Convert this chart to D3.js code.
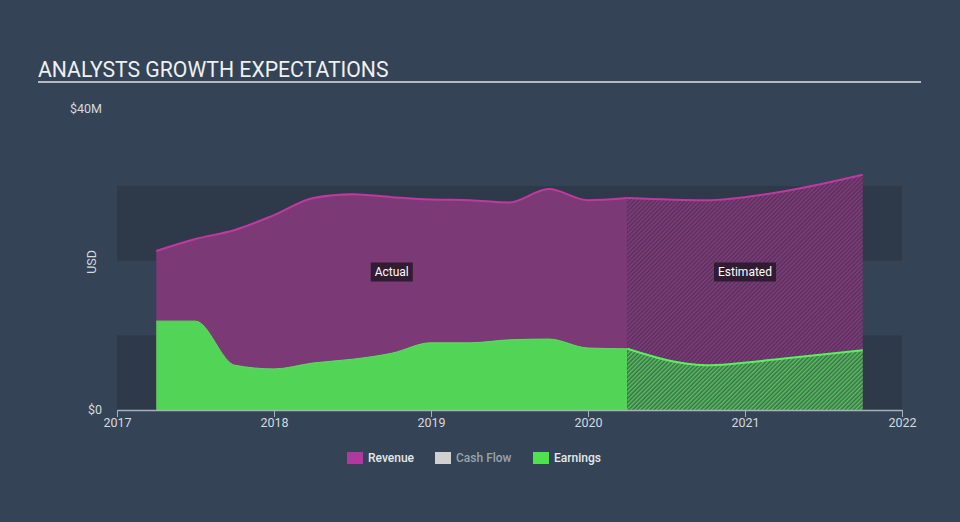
<!DOCTYPE html>
<html>
<head>
<meta charset="utf-8">
<script src="https://cdn.jsdelivr.net/npm/d3@7"></script>
<style>
  html, body { margin: 0; padding: 0; background: #344456; }
  svg { display: block; }
  text { font-family: Roboto, "Noto Sans", sans-serif; }
</style>
</head>
<body>
<svg id="chart" width="960" height="522"></svg>
<script>
// ---- data (values in USD millions, dates in decimal years) ----
const actualDates    = [2017.25, 2017.5, 2017.75, 2018.0, 2018.25, 2018.5, 2018.75, 2019.0, 2019.25, 2019.5, 2019.75, 2020.0, 2020.25];
const actualRevenue  = [21.3, 22.9, 24.1, 26.1, 28.4, 28.9, 28.5, 28.2, 28.1, 27.8, 29.6, 28.1, 28.4];
const actualEarnings = [11.9, 11.9, 6.0, 5.5, 6.3, 6.8, 7.6, 9.0, 9.0, 9.4, 9.5, 8.3, 8.2];

const estDates    = [2020.25, 2020.75, 2021.25, 2021.75];
const estRevenue  = [28.4, 28.1, 29.3, 31.5];
const estEarnings = [8.2, 6.0, 6.9, 8.0];

const yearTicks = [2017, 2018, 2019, 2020, 2021, 2022];
const yTickValues = [0, 40];
const yTickLabels = ["$0", "$40M"];
const bandRanges = [[0, 10], [20, 30]];
const legendItems = ["Revenue", "Cash Flow", "Earnings"];
const title = "ANALYSTS GROWTH EXPECTATIONS";

// ---- setup ----
const svg = d3.select("#chart");
const W = 960, H = 522;
const x = d3.scaleLinear().domain([2017, 2022]).range([117, 902]);
const y = d3.scaleLinear().domain([0, 40]).range([410, 111.3]);

const C = {
  bg: "#344456",
  band: "#2e3a4a",
  revFill: "#7b3a76",
  revLine: "#c0399f",
  earnFill: "#52d556",
  earnLine: "#5cf060",
  text: "#d6d9dd",
  axis: "#a8b0ba"
};

svg.append("rect").attr("width", W).attr("height", H).attr("fill", C.bg);

// patterns
const defs = svg.append("defs");
function hatch(id, base, stripe) {
  const p = defs.append("pattern").attr("id", id)
    .attr("patternUnits", "userSpaceOnUse").attr("width", 3).attr("height", 3)
    .attr("patternTransform", "rotate(45)");
  p.append("rect").attr("width", 3).attr("height", 3).attr("fill", base);
  p.append("rect").attr("width", 1.5).attr("height", 3).attr("fill", stripe);
}
hatch("hatchRev", "#56305a", "#823e7d");
hatch("hatchEarn", "#3e6a4e", "#55c45a");

// title
svg.append("text").attr("x", 38).attr("y", 77)
  .attr("fill", "#eef0f2").attr("font-size", 21.2)
  .text(title);
svg.append("line").attr("x1", 38).attr("x2", 921).attr("y1", 82).attr("y2", 82)
  .attr("stroke", "#b4bbc3").attr("stroke-width", 2);

// bands
svg.selectAll("rect.band").data(bandRanges).join("rect").attr("class", "band")
  .attr("x", x(2017)).attr("width", x(2022) - x(2017))
  .attr("y", d => y(d[1])).attr("height", d => y(d[0]) - y(d[1]))
  .attr("fill", C.band);

// areas
const curve = d3.curveMonotoneX;
function series(dates, vals) { return dates.map((d, i) => ({ t: d, v: vals[i] })); }
const area = d3.area().x(d => x(d.t)).y0(y(0)).y1(d => y(d.v)).curve(curve);
const line = d3.line().x(d => x(d.t)).y(d => y(d.v)).curve(curve);

const aRev = series(actualDates, actualRevenue);
const aEarn = series(actualDates, actualEarnings);
const eRev = series(estDates, estRevenue);
const eEarn = series(estDates, estEarnings);

svg.append("path").attr("d", area(aRev)).attr("fill", C.revFill);
svg.append("path").attr("d", line(aRev)).attr("fill", "none").attr("stroke", C.revLine).attr("stroke-width", 2);
svg.append("path").attr("d", area(aEarn)).attr("fill", C.earnFill);
svg.append("path").attr("d", line(aEarn)).attr("fill", "none").attr("stroke", "#58e05c").attr("stroke-width", 1);

svg.append("path").attr("d", area(eRev)).attr("fill", "url(#hatchRev)");
svg.append("path").attr("d", line(eRev)).attr("fill", "none").attr("stroke", C.revLine).attr("stroke-width", 2);
svg.append("path").attr("d", area(eEarn)).attr("fill", "url(#hatchEarn)");
svg.append("path").attr("d", line(eEarn)).attr("fill", "none").attr("stroke", C.earnLine).attr("stroke-width", 2);

// x axis
const xAxis = d3.axisBottom(x).tickValues(yearTicks).tickFormat(d3.format("d")).tickSize(7).tickSizeOuter(0);
const gx = svg.append("g").attr("transform", `translate(0,${y(0)})`).call(xAxis);
gx.select(".domain").attr("stroke", C.axis).attr("stroke-width", 1.5);
gx.selectAll(".tick line").attr("stroke", C.axis);
gx.selectAll(".tick text").attr("fill", C.text).attr("font-size", 12.5).attr("dy", "0.75em").attr("y", 8);

// y labels
svg.selectAll("text.ylab").data(yTickValues).join("text").attr("class", "ylab")
  .attr("x", 102).attr("y", d => y(d) - (d === 0 ? 0 : 3))
  .attr("dy", "0.35em").attr("text-anchor", "end")
  .attr("fill", C.text).attr("font-size", 12.5)
  .text((d, i) => yTickLabels[i]);
svg.append("text").attr("transform", "translate(96,262) rotate(-90)")
  .attr("text-anchor", "middle").attr("fill", C.text).attr("font-size", 12.5).text("USD");

// region labels
function tag(label, cx, cy) {
  const g = svg.append("g");
  const t = g.append("text").attr("x", cx).attr("y", cy).attr("dy", "0.35em")
    .attr("text-anchor", "middle").attr("fill", "#ffffff").attr("font-size", 12).text(label);
  const bb = t.node().getBBox();
  g.insert("rect", "text").attr("x", bb.x - 4).attr("y", cy - 9.5).attr("width", bb.width + 8).attr("height", 19)
    .attr("fill", "#2a1a2c").attr("opacity", 0.9);
}
tag("Actual", (x(actualDates[0]) + x(actualDates[actualDates.length - 1])) / 2, 272);
tag("Estimated", (x(estDates[0]) + x(estDates[estDates.length - 1])) / 2, 272);

// legend
const legendColors = ["#b0399f", "#d0d0d0", "#4fe24f"];
const legendText = ["#e6e8ea", "#9aa3ad", "#e6e8ea"];
const legendX = [347, 435, 533];
const lg = svg.selectAll("g.leg").data(legendItems).join("g").attr("class", "leg")
  .attr("transform", (d, i) => `translate(${legendX[i]},452)`);
lg.append("rect").attr("width", 16).attr("height", 12).attr("fill", (d, i) => legendColors[i]);
lg.append("text").attr("x", 21).attr("y", 6).attr("dy", "0.35em")
  .attr("fill", (d, i) => legendText[i]).attr("font-size", 12).attr("font-weight", 500)
  .text(d => d);
</script>
</body>
</html>
